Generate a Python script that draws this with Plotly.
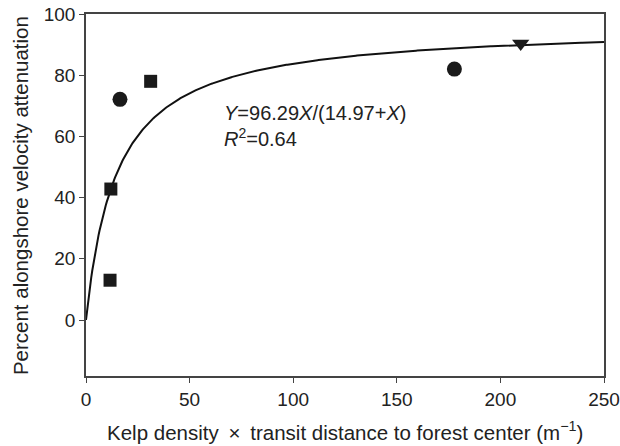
import numpy as np
import plotly.graph_objects as go

# Data
sq_x = [11.6, 12.0, 31.2]
sq_y = [13.0, 42.8, 78.0]
circ_x = [16.4, 177.8]
circ_y = [72.1, 82.0]
tri_x = [209.8]
tri_y = [90.4]

# Fitted model parameters (from equation in the figure)
vmax = 96.29
km = 14.97

x_ticks = [0, 50, 100, 150, 200, 250]
y_ticks = [0, 20, 40, 60, 80, 100]

fx = np.linspace(0, 250, 500)
fy = vmax * fx / (km + fx)

fig = go.Figure()
fig.add_trace(go.Scatter(x=fx, y=fy, mode="lines",
                         line=dict(color="#111111", width=2), hoverinfo="skip"))
fig.add_trace(go.Scatter(x=sq_x, y=sq_y, mode="markers",
                         marker=dict(symbol="square", size=13, color="#1a1a1a")))
fig.add_trace(go.Scatter(x=circ_x, y=circ_y, mode="markers",
                         marker=dict(symbol="circle", size=15, color="#1a1a1a")))
fig.add_trace(go.Scatter(x=tri_x, y=tri_y, mode="markers",
                         marker=dict(symbol="triangle-down", size=15, color="#1a1a1a")))

font = "Liberation Sans, Arial, sans-serif"
fig.update_layout(
    width=620, height=446,
    margin=dict(l=86, r=16, t=14, b=70),
    paper_bgcolor="white", plot_bgcolor="white",
    showlegend=False,
    font=dict(family=font, size=19, color="#222222"),
    xaxis=dict(range=[0, 250], tickvals=x_ticks, ticks="outside", ticklen=5,
               tickcolor="#444444", showline=True, linecolor="#444444", linewidth=1.5,
               mirror=True, showgrid=False, zeroline=False, automargin=False,
               tickfont=dict(size=19)),
    yaxis=dict(range=[-18.3, 100], tickvals=y_ticks, ticks="outside", ticklen=5,
               tickcolor="#444444", showline=True, linecolor="#444444", linewidth=1.5,
               mirror=True, showgrid=False, zeroline=False, automargin=False,
               tickfont=dict(size=19)),
)
# axis titles
fig.add_annotation(xref="paper", yref="paper", x=0.5, y=0, yshift=-55,
                   xanchor="center", yanchor="middle", showarrow=False,
                   text="Kelp density \u2009×\u2009 transit distance to forest center (m<sup>−1</sup>)",
                   font=dict(size=20.5, color="#222222"))
fig.add_annotation(xref="paper", yref="paper", x=0, y=0.497, xshift=-66,
                   xanchor="center", yanchor="middle", showarrow=False, textangle=-90,
                   text="Percent alongshore velocity attenuation",
                   font=dict(size=20.5, color="#222222"))
# equation
fig.add_annotation(x=65.6, y=67.6, xanchor="left", yanchor="middle", showarrow=False,
                   text="<i>Y</i>=96.29<i>X</i>/(14.97+<i>X</i>)", font=dict(size=20, color="#222222"))
fig.add_annotation(x=65.6, y=59.8, xanchor="left", yanchor="middle", showarrow=False,
                   text="<i>R</i><sup>2</sup>=0.64", font=dict(size=20, color="#222222"))

fig.write_html("out.html", config={"displayModeBar": False})

# remove default page margin so the figure fills the window exactly
with open("out.html", "r", encoding="utf-8") as f:
    html = f.read()
html = html.replace("<head>", "<head><style>html,body{margin:0;padding:0;overflow:hidden;}</style>", 1)
with open("out.html", "w", encoding="utf-8") as f:
    f.write(html)
